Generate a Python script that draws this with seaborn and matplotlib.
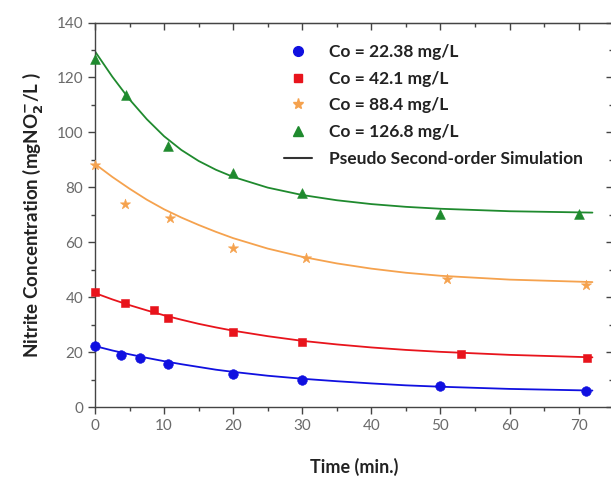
import numpy as np
import pandas as pd
import matplotlib
matplotlib.use("Agg")
import matplotlib.pyplot as plt
import seaborn as sns
from matplotlib.ticker import MultipleLocator
from matplotlib.lines import Line2D

# measured points
t_blue = [0, 3.8, 6.5, 10.5, 20, 30, 50, 71]
c_blue = [22.4, 19.1, 18.0, 15.7, 12.2, 10.0, 7.5, 5.8]
t_red = [0, 4.3, 8.5, 10.5, 20, 30, 53, 71.2]
c_red = [42.0, 38.0, 35.2, 32.3, 27.4, 23.7, 19.3, 17.8]
t_orange = [0, 4.3, 10.8, 20, 30.6, 51, 71]
c_orange = [88.0, 74.0, 68.7, 57.8, 54.2, 46.5, 44.5]
t_green = [0, 4.5, 10.5, 20, 30, 50, 70]
c_green = [126.6, 113.6, 95.0, 85.3, 78.0, 70.3, 70.3]

# simulation curves
t_sim = [0, 2.5, 5, 7.5, 10, 12.5, 15, 17.5, 20, 25, 30, 35, 40, 45, 50, 60, 72]
sim_blue = [22.2, 20.6, 19.2, 17.9, 16.7, 15.6, 14.6, 13.6, 12.8, 11.4, 10.3, 9.4, 8.6, 7.9, 7.4, 6.6, 6.0]
sim_red = [41.5, 39.2, 37.1, 35.2, 33.4, 31.8, 30.3, 29.0, 27.8, 25.8, 24.1, 22.8, 21.7, 20.8, 20.1, 19.0, 18.1]
sim_orange = [88.5, 83.8, 79.5, 75.5, 72.0, 69.0, 66.3, 63.8, 61.5, 57.7, 54.7, 52.3, 50.4, 48.9, 47.8, 46.4, 45.5]
sim_green = [129.5, 120.3, 112.0, 104.8, 98.6, 93.6, 89.6, 86.4, 83.8, 79.9, 77.2, 75.3, 73.9, 72.9, 72.2, 71.3, 70.8]

labels = ["Co = 22.38 mg/L", "Co = 42.1 mg/L", "Co = 88.4 mg/L", "Co = 126.8 mg/L"]
colors = ["#1010e0", "#e8141c", "#f5a24e", "#1f8a2e"]
markers = ["o", "s", "*", "^"]
msizes = [48, 40, 60, 50]

sns.set_style("ticks")
plt.rcParams["font.family"] = ["Lato", "DejaVu Sans"]
plt.rcParams["mathtext.default"] = "regular"

fig = plt.figure(figsize=(6.11, 4.8), dpi=100)
ax = fig.add_axes([0.1555, 0.152, 0.848, 0.801])

series = [(t_blue, c_blue, sim_blue), (t_red, c_red, sim_red),
          (t_orange, c_orange, sim_orange), (t_green, c_green, sim_green)]
for i, (t, c, sim) in enumerate(series):
    sns.lineplot(x=t_sim, y=sim, ax=ax, color=colors[i], lw=1.3, zorder=2)
    sns.scatterplot(x=t, y=c, ax=ax, color=colors[i], marker=markers[i],
                    s=msizes[i], edgecolor=colors[i], linewidth=0.4, zorder=3,
                    clip_on=False)

ax.set_xlim(0, 75)
ax.set_ylim(0, 140)
ax.xaxis.set_major_locator(MultipleLocator(10))
ax.xaxis.set_minor_locator(MultipleLocator(5))
ax.yaxis.set_major_locator(MultipleLocator(20))
ax.yaxis.set_minor_locator(MultipleLocator(10))
ax.tick_params(which="both", direction="out", colors="#444444", labelcolor="#6a6a6a",
               labelsize=11, width=1)
ax.tick_params(which="major", length=5)
ax.tick_params(which="minor", length=3)
for s in ax.spines.values():
    s.set_color("#444444")
    s.set_linewidth(1)
    s.set_visible(True)

# inward ticks on the top and right frame
top = ax.secondary_xaxis("top")
top.xaxis.set_major_locator(MultipleLocator(10))
top.xaxis.set_minor_locator(MultipleLocator(5))
top.tick_params(which="both", direction="in", labeltop=False, colors="#444444", width=1)
top.tick_params(which="major", length=5)
top.tick_params(which="minor", length=3)
right = ax.secondary_yaxis("right")
right.yaxis.set_major_locator(MultipleLocator(20))
right.yaxis.set_minor_locator(MultipleLocator(10))
right.tick_params(which="both", direction="in", labelright=False, colors="#444444", width=1)
right.tick_params(which="major", length=5)
right.tick_params(which="minor", length=3)

ax.set_xlabel("Time (min.)", fontsize=13, fontweight="bold", color="#222222", labelpad=18)
ax.set_ylabel(r"Nitrite Concentration (mgNO$_\mathbf{2}^{\mathbf{-}}$/L )", fontsize=13.5,
              fontweight="bold", color="#222222", labelpad=8)

handles = [Line2D([], [], ls="none", marker=markers[i], color=colors[i],
                  markersize=[7, 6, 8, 7][i]) for i in range(4)]
handles.append(Line2D([], [], color="#333333", lw=1.5))
leg = ax.legend(handles, labels + ["Pseudo Second-order Simulation"],
                loc="upper left", bbox_to_anchor=(0.335, 0.985), frameon=False,
                fontsize=12.5, handlelength=1.6, handletextpad=1.0, labelspacing=0.62)
for txt in leg.get_texts():
    txt.set_fontweight("bold")
    txt.set_color("#222222")

fig.savefig("out.png", dpi=100)
